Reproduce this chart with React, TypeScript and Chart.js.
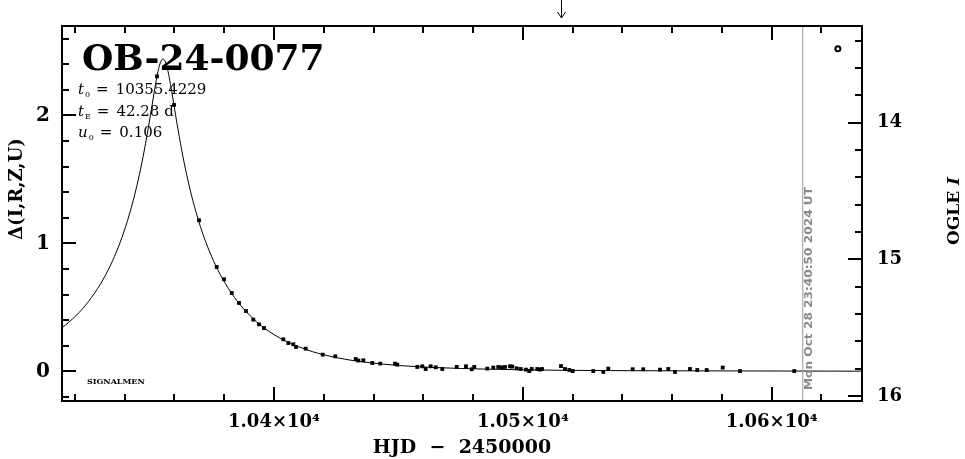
import React, { useEffect, useRef } from "react";
import { Chart, registerables } from "chart.js";
Chart.register(...registerables);

// ---- data ----
const CURVE_T = [10314.8, 10320.4, 10325.4, 10330.4, 10334.4, 10337.4, 10340.4, 10343.4, 10345.4, 10347.4, 10349.4, 10350.4, 10351.4, 10352.4, 10353.4, 10354.4, 10355.4, 10356.4, 10357.4, 10358.4, 10359.4, 10360.4, 10361.4, 10363.4, 10365.4, 10367.4, 10370.4, 10373.4, 10376.4, 10380.4, 10385.4, 10390.4, 10395.4, 10400.4, 10405.4, 10415.4, 10425.4, 10435.4, 10450.4, 10465.4, 10485.4, 10515.4, 10555.4, 10636.3];
const CURVE_D = [0.339, 0.434, 0.544, 0.687, 0.833, 0.969, 1.132, 1.333, 1.493, 1.678, 1.892, 2.008, 2.127, 2.242, 2.344, 2.415, 2.441, 2.415, 2.344, 2.242, 2.127, 2.008, 1.892, 1.678, 1.493, 1.333, 1.132, 0.969, 0.833, 0.687, 0.544, 0.434, 0.348, 0.282, 0.229, 0.154, 0.106, 0.074, 0.045, 0.029, 0.017, 0.008, 0.004, 0.001];

const OBS_T = [10352.98, 10359.82, 10369.86, 10376.97, 10379.91, 10383.0, 10385.94, 10388.75, 10391.68, 10393.97, 10395.98, 10403.74, 10405.75, 10407.76, 10408.84, 10412.74, 10419.57, 10424.63, 10432.83, 10433.88, 10435.89, 10439.5, 10442.72, 10448.62, 10449.55, 10457.58, 10459.59, 10460.96, 10462.97, 10464.98, 10467.63, 10473.42, 10477.15, 10479.45, 10480.49, 10485.71, 10488.12, 10490.13, 10491.5, 10492.83, 10494.84, 10495.76, 10497.53, 10499.14, 10501.27, 10502.59, 10503.56, 10505.81, 10506.89, 10507.7, 10515.33, 10516.94, 10518.67, 10520.03, 10528.31, 10532.33, 10534.34, 10544.14, 10548.4, 10555.11, 10558.45, 10561.14, 10567.17, 10570.1, 10573.88, 10580.31, 10587.26, 10609.08];
const OBS_D = [2.305, 2.082, 1.18, 0.815, 0.719, 0.612, 0.534, 0.471, 0.404, 0.367, 0.338, 0.25, 0.221, 0.211, 0.19, 0.177, 0.13, 0.117, 0.096, 0.084, 0.086, 0.065, 0.06, 0.06, 0.052, 0.034, 0.039, 0.018, 0.039, 0.031, 0.018, 0.034, 0.039, 0.016, 0.034, 0.021, 0.029, 0.034, 0.031, 0.034, 0.039, 0.037, 0.023, 0.018, 0.013, 0.002, 0.018, 0.018, 0.013, 0.018, 0.041, 0.018, 0.01, 0.002, 0.002, -0.005, 0.021, 0.016, 0.016, 0.013, 0.018, -0.005, 0.018, 0.01, 0.01, 0.029, 0.002, 0.002];

const MARK_T = [10626.6];
const MARK_D = [2.52];

const NOW_T = 10612.49;
const ARROW_T = 10515.33;

const X_RANGE = [10314.8, 10636.3];
const Y_RANGE = [-0.232, 2.698];
const MAG_RANGE = [13.292, 16.037];
const X_MAJOR = [10400, 10500, 10600];
const Y_MAJOR = [0, 1, 2];
const MAG_MAJOR = [14, 15, 16];

const TITLE = "OB-24-0077";
const PARAM_SYM = ["t", "t", "u"];
const PARAM_SUB = ["0", "E", "0"];
const PARAM_VAL = ["10355.4229", "42.28 d", "0.106"];
const SIGNATURE = "SIGNALMEN";
const NOW_LABEL = "Mon Oct 28 23:40:50 2024 UT";
const X_TITLE = "HJD  \u2212  2450000";
const Y_TITLE = "\u0394(I,R,Z,U)";
const Y2_TITLE = ["OGLE ", "I"];

const SERIF = "'DejaVu Serif', serif";

const isMajor = (v: number, list: number[]) => list.some((m) => Math.abs(m - v) < 1e-6);

const decorPlugin = {
  id: "decor",
  beforeDatasetsDraw(chart: any) {
    const ctx = chart.ctx as CanvasRenderingContext2D;
    ctx.save();
    ctx.fillStyle = "#000";
    ctx.textBaseline = "alphabetic";
    ctx.textAlign = "left";
    // title
    ctx.font = `bold 36px ${SERIF}`;
    ctx.fillText(TITLE, 82, 70);
    // params
    const bases = [94, 116, 137];
    for (let i = 0; i < PARAM_SYM.length; i++) {
      let x = 78;
      const y = bases[i];
      ctx.font = `italic 15px ${SERIF}`;
      ctx.fillText(PARAM_SYM[i], x, y);
      x += ctx.measureText(PARAM_SYM[i]).width + 1;
      ctx.font = `8px ${SERIF}`;
      ctx.fillText(PARAM_SUB[i], x, y + 3);
      x += ctx.measureText(PARAM_SUB[i]).width + 6;
      ctx.font = `15px ${SERIF}`;
      ctx.fillText("=", x, y);
      x += ctx.measureText("=").width + 7;
      ctx.fillText(PARAM_VAL[i], x, y);
    }
    ctx.font = `bold 8px ${SERIF}`;
    ctx.fillText(SIGNATURE, 87, 384);
    ctx.restore();
  },
  afterDatasetsDraw(chart: any) {
    const ctx = chart.ctx as CanvasRenderingContext2D;
    const { left, right, top, bottom } = chart.chartArea;
    const xs = chart.scales.x;
    const ys = chart.scales.y;
    const y2 = chart.scales.y2;
    ctx.save();
    ctx.strokeStyle = "#000";
    ctx.lineWidth = 2;
    const seg = (a: number, b: number, c: number, d: number) => {
      ctx.beginPath();
      ctx.moveTo(a, b);
      ctx.lineTo(c, d);
      ctx.stroke();
    };
    xs.ticks.forEach((t: any) => {
      const p = Math.round(xs.getPixelForValue(t.value));
      const len = isMajor(t.value, X_MAJOR) ? 14 : 7;
      seg(p, bottom, p, bottom - len);
      seg(p, top, p, top + len);
    });
    ys.ticks.forEach((t: any) => {
      const p = Math.round(ys.getPixelForValue(t.value));
      const len = isMajor(t.value, Y_MAJOR) ? 14 : 7;
      seg(left, p, left + len, p);
    });
    y2.ticks.forEach((t: any) => {
      const p = Math.round(y2.getPixelForValue(t.value));
      const len = isMajor(t.value, MAG_MAJOR) ? 14 : 7;
      seg(right, p, right - len, p);
    });
    ctx.strokeRect(left, top, right - left, bottom - top);

    // arrow at top
    const ax = Math.round(xs.getPixelForValue(ARROW_T)) + 0.5;
    ctx.lineWidth = 1;
    seg(ax, 0, ax, 18);
    seg(ax - 4, 12, ax, 18);
    seg(ax + 4, 12, ax, 18);

    // rotated date label along the "now" line
    const nx = xs.getPixelForValue(NOW_T);
    ctx.save();
    ctx.fillStyle = "#8a8a8a";
    ctx.font = `bold 11px 'DejaVu Sans', sans-serif`;
    const w = ctx.measureText(NOW_LABEL).width;
    ctx.translate(nx + 6, bottom - 11);
    ctx.rotate(-Math.PI / 2);
    ctx.scale(203 / w, 1);
    ctx.textBaseline = "middle";
    ctx.textAlign = "left";
    ctx.fillText(NOW_LABEL, 0, 0);
    ctx.restore();

    // left axis title
    ctx.save();
    ctx.fillStyle = "#000";
    ctx.font = `bold 18px ${SERIF}`;
    ctx.translate(17, 189);
    ctx.rotate(-Math.PI / 2);
    ctx.textAlign = "center";
    ctx.textBaseline = "middle";
    ctx.fillText(Y_TITLE, 0, 0);
    ctx.restore();

    // right axis title
    ctx.save();
    ctx.fillStyle = "#000";
    ctx.translate(955, 211);
    ctx.rotate(-Math.PI / 2);
    ctx.textBaseline = "middle";
    ctx.font = `bold 17px ${SERIF}`;
    const w1 = ctx.measureText(Y2_TITLE[0]).width;
    ctx.font = `bold italic 17px ${SERIF}`;
    const w2 = ctx.measureText(Y2_TITLE[1]).width;
    const tot = w1 + w2;
    ctx.textAlign = "left";
    ctx.font = `bold 17px ${SERIF}`;
    ctx.fillText(Y2_TITLE[0], -tot / 2, 0);
    ctx.font = `bold italic 17px ${SERIF}`;
    ctx.fillText(Y2_TITLE[1], -tot / 2 + w1, 0);
    ctx.restore();

    ctx.restore();
  },
};

export default function App() {
  const ref = useRef<HTMLCanvasElement>(null);
  useEffect(() => {
    const curve = CURVE_T.map((t, i) => ({ x: t, y: CURVE_D[i] }));
    const obs = OBS_T.map((t, i) => ({ x: t, y: OBS_D[i] }));
    const mark = MARK_T.map((t, i) => ({ x: t, y: MARK_D[i] }));
    const nowLine = [
      { x: NOW_T, y: Y_RANGE[0] },
      { x: NOW_T, y: Y_RANGE[1] },
    ];
    const noGrid = { display: false, drawTicks: false, tickLength: 0 };
    const chart = new Chart(ref.current as HTMLCanvasElement, {
      type: "scatter",
      data: {
        datasets: [
          {
            type: "line",
            data: nowLine,
            borderColor: "#999999",
            borderWidth: 1,
            pointRadius: 0,
            showLine: true,
          } as any,
          {
            type: "line",
            data: curve,
            borderColor: "#000",
            borderWidth: 1,
            pointRadius: 0,
            showLine: true,
            cubicInterpolationMode: "monotone",
          } as any,
          {
            data: obs,
            pointStyle: "rect",
            pointRadius: 2.7,
            backgroundColor: "#000",
            borderColor: "#000",
            borderWidth: 0,
          },
          {
            data: mark,
            pointStyle: "circle",
            pointRadius: 2.5,
            backgroundColor: "rgba(0,0,0,0)",
            borderColor: "#000",
            borderWidth: 2,
          },
        ],
      },
      options: {
        animation: false,
        responsive: true,
        maintainAspectRatio: false,
        layout: { padding: { top: 26, left: 0, right: 0, bottom: 0 } },
        plugins: { legend: { display: false }, tooltip: { enabled: false } },
        scales: {
          x: {
            type: "linear",
            position: "bottom",
            min: X_RANGE[0],
            max: X_RANGE[1],
            grid: noGrid,
            border: { display: false },
            ticks: {
              stepSize: 20,
              includeBounds: false,
              autoSkip: false,
              maxRotation: 0,
              padding: 11,
              color: "#000",
              font: { family: SERIF, size: 18, weight: "bold" },
              callback: (v: any) =>
                isMajor(Number(v), X_MAJOR) ? `${(Number(v) / 1e4).toFixed(2)}\u00d710\u2074` : "",
            },
            title: {
              display: true,
              text: X_TITLE,
              color: "#000",
              font: { family: SERIF, size: 19, weight: "bold" },
              padding: { top: 0, bottom: 0 },
            },
            afterFit: (s: any) => {
              s.height = 58;
            },
          },
          y: {
            type: "linear",
            position: "left",
            min: Y_RANGE[0],
            max: Y_RANGE[1],
            grid: noGrid,
            border: { display: false },
            ticks: {
              stepSize: 0.2,
              includeBounds: false,
              autoSkip: false,
              padding: 12,
              color: "#000",
              font: { family: SERIF, size: 20, weight: "bold" },
              callback: (v: any) => (isMajor(Number(v), Y_MAJOR) ? String(Math.round(Number(v))) : ""),
            },
            afterFit: (s: any) => {
              s.width = 62;
            },
          },
          y2: {
            type: "linear",
            position: "right",
            reverse: true,
            min: MAG_RANGE[0],
            max: MAG_RANGE[1],
            grid: noGrid,
            border: { display: false },
            ticks: {
              stepSize: 0.2,
              includeBounds: false,
              autoSkip: false,
              padding: 15,
              color: "#000",
              font: { family: SERIF, size: 18, weight: "bold" },
              callback: (v: any) => (isMajor(Number(v), MAG_MAJOR) ? String(Math.round(Number(v))) : ""),
            },
            afterFit: (s: any) => {
              s.width = 103;
            },
          },
        },
      },
      plugins: [decorPlugin],
    } as any);
    return () => chart.destroy();
  }, []);
  return (
    <div style={{ position: "fixed", left: 0, top: 0, width: 965, height: 459, background: "#fff" }}>
      <canvas ref={ref} />
    </div>
  );
}
